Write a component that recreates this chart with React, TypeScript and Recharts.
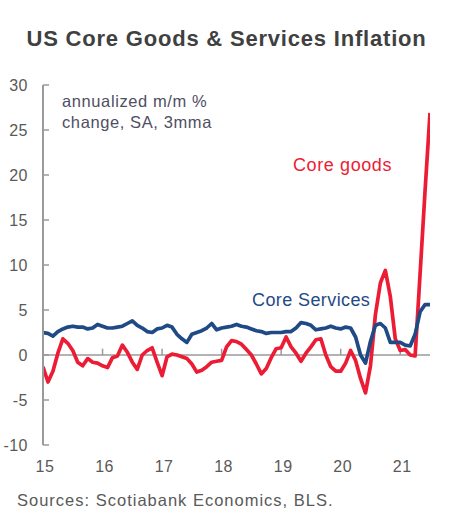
import React from "react";
import { LineChart, Line, XAxis, YAxis, ReferenceLine } from "recharts";

// Monthly values, Jan 2015 .. Jul 2021 (annualized m/m %, SA, 3mma)
const coreGoods: number[] = [
  -1.3, -3.0, -1.8, 0.2, 1.8, 1.3, 0.5, -0.8, -1.2, -0.4, -0.8, -0.9,
  -1.2, -1.4, -0.3, -0.1, 1.1, 0.3, -0.8, -1.6, 0.0, 0.5, 0.8, -0.8,
  -2.3, -0.2, 0.1, 0.0, -0.2, -0.4, -1.0, -1.9, -1.7, -1.3, -0.8, -0.7,
  -0.6, 0.9, 1.6, 1.5, 1.2, 0.6, 0.0, -1.0, -2.1, -1.5, -0.3, 0.7,
  0.8, 2.0, 0.9, 0.2, -0.7, 0.2, 0.9, 1.7, 1.8, 0.0, -1.3, -1.8,
  -1.8, -0.9, 0.5, -0.6, -2.6, -4.2, -1.2, 4.5, 8.0, 9.4, 6.5, 1.8,
  0.5, 0.6, 0.0, -0.1, 9.0, 18.2, 26.9,
];
const coreServices: number[] = [
  2.5, 2.4, 2.1, 2.6, 2.9, 3.1, 3.2, 3.1, 3.1, 2.9, 3.0, 3.4,
  3.2, 3.0, 3.0, 3.1, 3.2, 3.5, 3.8, 3.3, 3.0, 2.6, 2.5, 2.9,
  3.0, 3.3, 3.1, 2.3, 1.8, 1.4, 2.3, 2.5, 2.7, 3.0, 3.5, 2.8,
  3.0, 3.1, 3.2, 3.4, 3.2, 3.1, 2.9, 2.7, 2.6, 2.4, 2.5, 2.5,
  2.5, 2.6, 2.6, 3.0, 3.6, 3.5, 3.3, 2.8, 2.9, 3.0, 3.2, 3.0,
  2.9, 3.1, 3.0, 2.0, 0.0, -0.9, 1.5, 3.3, 3.5, 3.0, 1.4, 1.4,
  1.4, 1.1, 1.0, 2.3, 4.8, 5.6, 5.6,
];
const yearLabels: string[] = ["15", "16", "17", "18", "19", "20", "21"];
const yearTicks: number[] = [0, 12, 24, 36, 48, 60, 72];
const yTicks: number[] = [-10, -5, 0, 5, 10, 15, 20, 25, 30];

const data = coreGoods.map((g, i) => ({ m: i, goods: g, services: coreServices[i] }));

const RED = "#EC1C34";
const NAVY = "#1F4A86";
const AXIS = "#9a9a9a";
const TXT = "#595959";
const FONT = "'Liberation Sans', Arial, sans-serif";

const YTick = (props: any) => {
  const { x, y, payload } = props;
  return (
    <g>
      <line x1={x} y1={y} x2={x + 6} y2={y} stroke={AXIS} strokeWidth={1.5} />
      <text
        x={x - 15}
        y={y}
        dy="0.35em"
        textAnchor="end"
        fill={TXT}
        fontSize={16}
        letterSpacing={0.5}
        fontFamily={FONT}
      >
        {payload.value}
      </text>
    </g>
  );
};

const XTick = (props: any) => {
  const { x, y, payload } = props;
  const idx = yearTicks.indexOf(payload.value);
  return (
    <text
      x={x + 2}
      y={y}
      dy="0.71em"
      textAnchor="middle"
      fill={TXT}
      fontSize={16}
      letterSpacing={0.5}
      fontFamily={FONT}
    >
      {yearLabels[idx]}
    </text>
  );
};

const abs = (left: number, top: number, extra: React.CSSProperties = {}): React.CSSProperties => ({
  position: "absolute",
  left,
  top,
  fontFamily: FONT,
  whiteSpace: "nowrap",
  lineHeight: 1,
  ...extra,
});

export default function App() {
  return (
    <div style={{ position: "absolute", left: 0, top: 0, width: 449, height: 518, background: "#fff", overflow: "hidden" }}>
      <div
        style={abs(0, 28, {
          width: 453,
          textAlign: "center",
          fontSize: 22,
          fontWeight: "bold",
          letterSpacing: 0.8,
          color: "#404040",
        })}
      >
        US Core Goods &amp; Services Inflation
      </div>
      <div style={{ position: "absolute", left: 0, top: 0 }}>
        <LineChart width={449} height={518} data={data} margin={{ top: 85, right: 19, bottom: 43, left: 8 }}>
          <XAxis
            dataKey="m"
            type="number"
            domain={[0, 78]}
            ticks={yearTicks}
            tick={<XTick />}
            axisLine={false}
            tickLine={false}
            height={30}
            tickSize={0}
            tickMargin={16}
            allowDataOverflow
          />
          <YAxis
            type="number"
            domain={[-10, 30]}
            ticks={yTicks}
            tick={<YTick />}
            axisLine={{ stroke: AXIS, strokeWidth: 2 }}
            tickLine={false}
            tickSize={0}
            tickMargin={0}
            width={35}
            allowDataOverflow
          />
          <ReferenceLine y={0} stroke={AXIS} strokeWidth={1.5} ifOverflow="extendDomain" />
          {yearTicks.slice(1).map((t) => (
            <ReferenceLine
              key={t}
              segment={[{ x: t, y: 0 }, { x: t, y: 0.7 }]}
              stroke={AXIS}
              strokeWidth={1.5}
            />
          ))}
          <Line
            type="linear"
            dataKey="goods"
            stroke={RED}
            strokeWidth={3.7}
            dot={false}
            isAnimationActive={false}
            strokeLinejoin="round"
          />
          <Line
            type="linear"
            dataKey="services"
            stroke={NAVY}
            strokeWidth={3.7}
            dot={false}
            isAnimationActive={false}
            strokeLinejoin="round"
          />
        </LineChart>
      </div>
      <div style={abs(62, 93, { fontSize: 16.5, letterSpacing: 0.6, color: "#4f4f63" })}>annualized m/m %</div>
      <div style={abs(62, 114, { fontSize: 16.5, letterSpacing: 0.6, color: "#4f4f63" })}>change, SA, 3mma</div>
      <div style={abs(293, 156, { fontSize: 18, letterSpacing: 0.6, color: RED })}>Core goods</div>
      <div style={abs(252, 291, { fontSize: 18, letterSpacing: 0.4, color: NAVY })}>Core Services</div>
      <div style={abs(17, 492, { fontSize: 16.5, letterSpacing: 1.0, color: TXT })}>Sources: Scotiabank Economics, BLS.</div>
    </div>
  );
}
